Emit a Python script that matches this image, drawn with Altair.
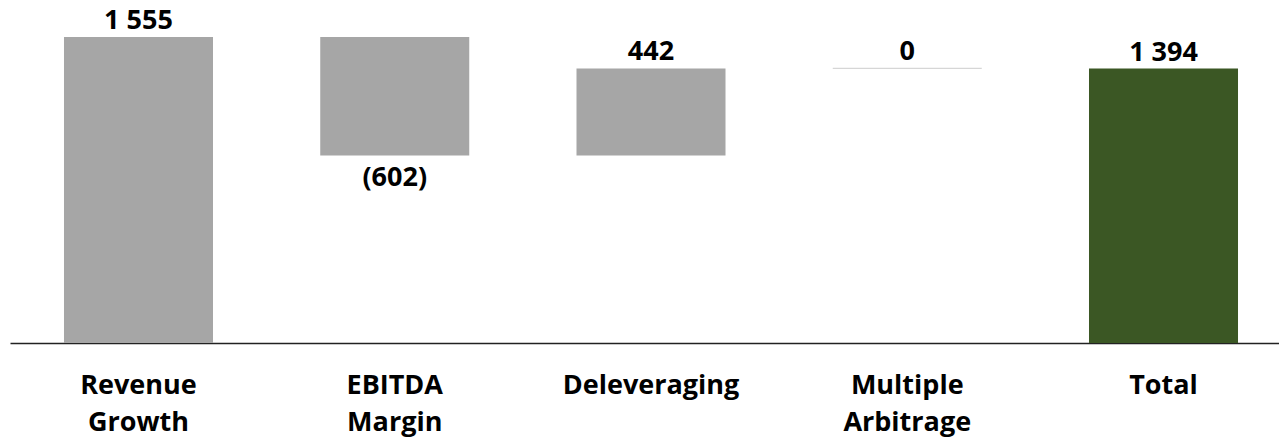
import altair as alt
import pandas as pd

categories = ["Revenue Growth", "EBITDA Margin", "Deleveraging", "Multiple Arbitrage", "Total"]
values = [1555, -602, 442, 0, 1394]
is_total = [False, False, False, False, True]

rows = []
running = 0
for cat, val, tot in zip(categories, values, is_total):
    if tot:
        start, end = 0, val
    else:
        start, end = running, running + val
        running = end
    label = f"{abs(val):,}".replace(",", " ")
    if val < 0:
        label = f"({label})"
    rows.append({
        "cat": cat, "value": val, "start": start, "end": end,
        "top": max(start, end), "bottom": min(start, end),
        "kind": "total" if tot else "delta",
        "label": label, "neg": val < 0,
    })
df = pd.DataFrame(rows)

FONT = "Open Sans"

x = alt.X(
    "cat:N", sort=categories, title=None,
    scale=alt.Scale(range=[0, 1282], paddingInner=0.4185, paddingOuter=0.2107),
    axis=alt.Axis(
        labelAngle=0, labelFont=FONT, labelFontSize=27, labelFontWeight="bold",
        labelColor="#000000", labelLineHeight=37, labelPadding=29, labelLimit=400,
        labelExpr="split(datum.label, ' ')", ticks=False, domainColor="#222222",
        domainWidth=1.5, grid=False,
    ),
)
yscale = alt.Scale(domain=[0, 1702], nice=False, zero=True)

base = alt.Chart(df)

bars = base.mark_bar(strokeWidth=1.2).encode(
    x=x,
    y=alt.Y("start:Q", scale=yscale, axis=None),
    y2="end:Q",
    color=alt.Color("kind:N", scale=alt.Scale(domain=["delta", "total"], range=["#a6a6a6", "#3b5724"]), legend=None),
    stroke=alt.condition(alt.datum.value == 0, alt.value("#d6d6d6"), alt.value("transparent")),
)

pos_labels = base.transform_filter("!datum.neg").mark_text(
    font=FONT, fontSize=27, fontWeight="bold", color="#000000", baseline="alphabetic", dy=-8,
).encode(x=x, y=alt.Y("top:Q", scale=yscale, axis=None), text="label:N")

neg_labels = base.transform_filter("datum.neg").mark_text(
    font=FONT, fontSize=27, fontWeight="bold", color="#000000", baseline="alphabetic", dy=31,
).encode(x=x, y=alt.Y("bottom:Q", scale=yscale, axis=None), text="label:N")

chart = alt.layer(bars, pos_labels, neg_labels).properties(
    width=1269, height=335,
    background="white",
    autosize=alt.AutoSizeParams(type="none"),
    padding={"left": 10, "top": 8, "right": 0, "bottom": 97},
).configure_view(strokeWidth=0, stroke="transparent")

chart.save("out.html", embed_options={"renderer": "svg", "actions": False})
